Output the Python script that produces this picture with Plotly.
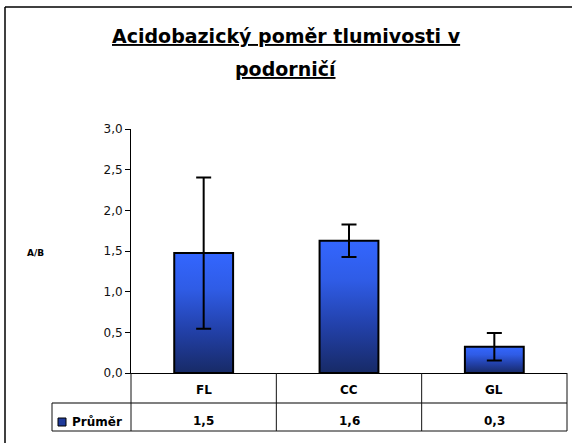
import plotly.graph_objects as go

# ---- data ----
categories = ["FL", "CC", "GL"]
means = [1.475, 1.627, 0.323]
errors = [0.93, 0.20, 0.17]
series_name = "Průměr"
y_ticks = [0.0, 0.5, 1.0, 1.5, 2.0, 2.5, 3.0]
title_line1 = "Acidobazický poměr tlumivosti v"
title_line2 = "podorničí"
y_title = "A/B"

# ---- layout geometry (pixels) ----
WIDTH, HEIGHT = 572, 443
L, R, T, B = 131, 5, 129, 70
PW = WIDTH - L - R
PH = HEIGHT - T - B
FONT = "DejaVu Sans, Arial, sans-serif"


def px_x(p):
    return (p - L) / PW


def px_y(p):
    return (HEIGHT - B - p) / PH


bar_w = 0.405
fig = go.Figure()

# bars as gradient-filled polygons in data coordinates
for i, (c, v) in enumerate(zip(categories, means)):
    x0, x1 = i - bar_w / 2, i + bar_w / 2
    fig.add_trace(go.Scatter(
        x=[x0, x1, x1, x0, x0], y=[0, 0, v, v, 0],
        mode="lines", fill="toself",
        fillgradient=dict(type="vertical",
                          colorscale=[[0, "#172a66"], [0.35, "#2240a8"],
                                      [0.7, "#2f5ce6"], [1, "#3366ff"]]),
        line=dict(color="black", width=2),
        showlegend=False, hoverinfo="skip"))

# error bars
fig.add_trace(go.Scatter(
    x=list(range(len(categories))), y=means, mode="markers",
    marker=dict(size=1, color="rgba(0,0,0,0)"),
    error_y=dict(type="data", array=errors, visible=True,
                 color="black", thickness=2, width=7.5),
    showlegend=False, name=series_name))

shapes = []
line_c = "#111111"


def hline(y, xa, xb, w=1, c=line_c):
    shapes.append(dict(type="line", xref="paper", yref="paper",
                       x0=px_x(xa), x1=px_x(xb), y0=px_y(y), y1=px_y(y),
                       line=dict(color=c, width=w)))


def vline(x, ya, yb, w=1, c=line_c):
    shapes.append(dict(type="line", xref="paper", yref="paper",
                       x0=px_x(x), x1=px_x(x), y0=px_y(ya), y1=px_y(yb),
                       line=dict(color=c, width=w)))

tbl_top, tbl_mid, tbl_bot = 373, 403, 431
tbl_left = 52
col_edges = [L + PW * k / len(categories) for k in range(len(categories) + 1)]
hline(tbl_mid, tbl_left, WIDTH - R, w=1.5, c="#555555")
hline(tbl_bot, tbl_left, WIDTH - R)
for xe in col_edges:
    vline(xe, tbl_top, tbl_bot)
vline(tbl_left, tbl_mid, tbl_bot)

# outer chart frame
shapes.append(dict(type="line", xref="paper", yref="paper",
                   x0=px_x(5), x1=px_x(5), y0=px_y(7), y1=px_y(450),
                   line=dict(color="black", width=1.5)))
shapes.append(dict(type="line", xref="paper", yref="paper",
                   x0=px_x(5), x1=px_x(580), y0=px_y(7), y1=px_y(7),
                   line=dict(color="black", width=1.5)))
# legend key
shapes.append(dict(type="rect", xref="paper", yref="paper",
                   x0=px_x(58), x1=px_x(66), y0=px_y(426), y1=px_y(418),
                   fillcolor="#1f3a9a", line=dict(color="black", width=1)))

annotations = []


def label(x, y, text, size, xanchor="center", bold=True, underline=False):
    f = dict(family=FONT, size=size, color="black")
    if underline:
        f["lineposition"] = "under"
    annotations.append(dict(x=px_x(x), y=px_y(y), xref="paper", yref="paper",
                            xanchor=xanchor, yanchor="middle",
                            text=("<b>%s</b>" % text) if bold else text,
                            showarrow=False, font=f))


for i, (c, v) in enumerate(zip(categories, means)):
    cx = (col_edges[i] + col_edges[i + 1]) / 2
    label(cx, 389.5, c, 12)
    label(cx, 421, ("%.1f" % v).replace(".", ","), 12)
label(70, 421.5, series_name, 12, xanchor="left")
label(35.5, 253, y_title, 9)
label(286, 35.5, title_line1, 19, underline=True)
label(286, 69.5, title_line2, 19, underline=True)

fig.update_layout(
    width=WIDTH, height=HEIGHT, autosize=False,
    margin=dict(l=L, r=R, t=T, b=B, pad=0),
    paper_bgcolor="white", plot_bgcolor="white",
    separators=", ",
    showlegend=False,
    shapes=shapes, annotations=annotations,
    xaxis=dict(range=[-0.5, 2.5], showticklabels=False, ticks="",
               showgrid=False, zeroline=False, showline=True,
               linecolor="black", linewidth=1, fixedrange=True),
    yaxis=dict(range=[0, 3.0], tickvals=y_ticks, tickformat=".1f",
               ticks="outside", ticklen=5, tickcolor="black",
               showgrid=False, zeroline=False, showline=True,
               linecolor="black", linewidth=1,
               tickfont=dict(family=FONT, size=12, color="#111111"),
               fixedrange=True),
    font=dict(family=FONT),
)

fig.write_html("out.html",
               config={"displayModeBar": False, "staticPlot": True},
               post_script="document.body.style.margin='0';"
                           "document.body.style.padding='0';")
